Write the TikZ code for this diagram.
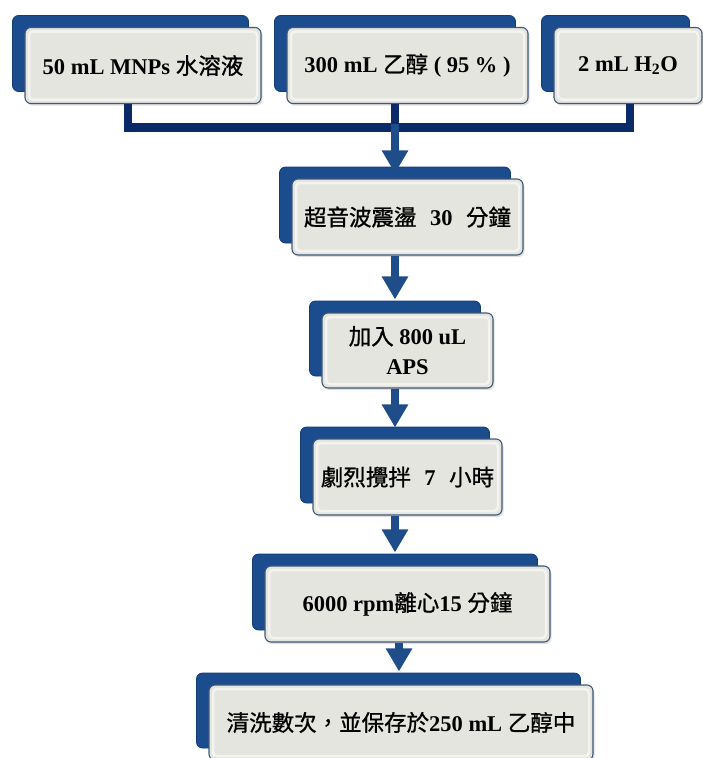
\documentclass[tikz,border=0pt]{standalone}
\usepackage{fontspec}
\setmainfont{Liberation Serif}
\newfontfamily\cjk{Noto Sans CJK TC}[FakeBold=0.9]
\usetikzlibrary{shadows,arrows.meta,calc}
\definecolor{backblue}{HTML}{1A4C8E}
\definecolor{backdark}{HTML}{123C75}
\definecolor{frontfill}{HTML}{E5E5DF}
\definecolor{framecol}{HTML}{3F5878}
\definecolor{hline}{HTML}{0B2A68}
\definecolor{arrcol}{HTML}{1F4D8A}
\newcommand\zh[1]{{\cjk\mdseries #1}}
\newcommand\gap{\hspace{0.6em}}
\tikzset{
  stepbox/.style={draw=framecol, line width=1.1pt, fill=frontfill, rounded corners=6pt,
    minimum height=76pt, inner sep=0pt, align=center,
    font=\fontsize{22.5}{30}\selectfont\bfseries,
    general shadow={fill=backblue, draw=backdark, line width=0.8pt,
      shadow xshift=-12.5pt, shadow yshift=12pt},
    drop shadow={opacity=0.25, shadow xshift=1.5pt, shadow yshift=-2pt},
    path picture={\draw[white, opacity=0.55, line width=2.5pt, rounded corners=4pt]
      ([shift={(4pt,-4pt)}]path picture bounding box.north west) rectangle
      ([shift={(-4pt,4pt)}]path picture bounding box.south east);}},
  conn/.style={draw=hline, line width=8.5pt},
  arr/.style={draw=arrcol, line width=8pt, -{Triangle[length=23pt,width=25pt]}},
}
\begin{document}
\begin{tikzpicture}[x=1pt,y=-1pt]
\useasboundingbox (0,0) rectangle (703,758);
\node[stepbox, minimum width=236pt] (b1) at (143,65.5) {50 mL MNPs \zh{水溶液}};
\node[stepbox, minimum width=241pt] (b2) at (407.5,65.5) {300 mL \zh{乙醇} ( 95 \% )};
\node[stepbox, minimum width=148pt] (b3) at (628,65.5) {2 mL H\textsubscript{2}O};
\node[stepbox, minimum width=231pt] (b4) at (407.5,217) {\zh{超音波震盪}\gap30\gap\zh{分鐘}};
\node[stepbox, minimum width=171pt, minimum height=75pt] (b5) at (407.5,350.5) {\zh{加入} 800 uL\\APS};
\node[stepbox, minimum width=189pt] (b6) at (407.5,477) {\zh{劇烈攪拌}\gap7\gap\zh{小時}};
\node[stepbox, minimum width=285pt] (b7) at (407.5,604) {6000 rpm\zh{離心}15 \zh{分鐘}};
\node[stepbox, minimum width=384pt, minimum height=75pt] (b8) at (401,722.5) {\zh{清洗數次，並保存於}250 mL \zh{乙醇中}};
\coordinate (j1) at ($(b1.south)+(-15,23.5)$);
\coordinate (j3) at ($(b3.south)+(2,23.5)$);
\draw[conn] ($(b1.south)+(-15,0)$) -- (j1) -- (j3) -- ($(b3.south)+(2,0)$);
\draw[conn] ($(b2.south)+(-12.5,0)$) -- ($(b2.south)+(-12.5,23.5)$);
\draw[arr] ($(b2.south)+(-12.5,20)$) -- ($(b4.north)+(-12.5,-5)$);
\draw[arr] ($(b4.south)+(-12.5,0)$) -- ($(b5.north)+(-12.5,-13)$);
\draw[arr] ($(b5.south)+(-12.5,0)$) -- ($(b6.north)+(-12.5,-11)$);
\draw[arr] ($(b6.south)+(-12.5,0)$) -- ($(b7.north)+(-12.5,-13)$);
\draw[arr] ($(b7.south)+(-8.5,0)$) -- ($(b8.north)+(-2,-13)$);
\end{tikzpicture}
\end{document}
